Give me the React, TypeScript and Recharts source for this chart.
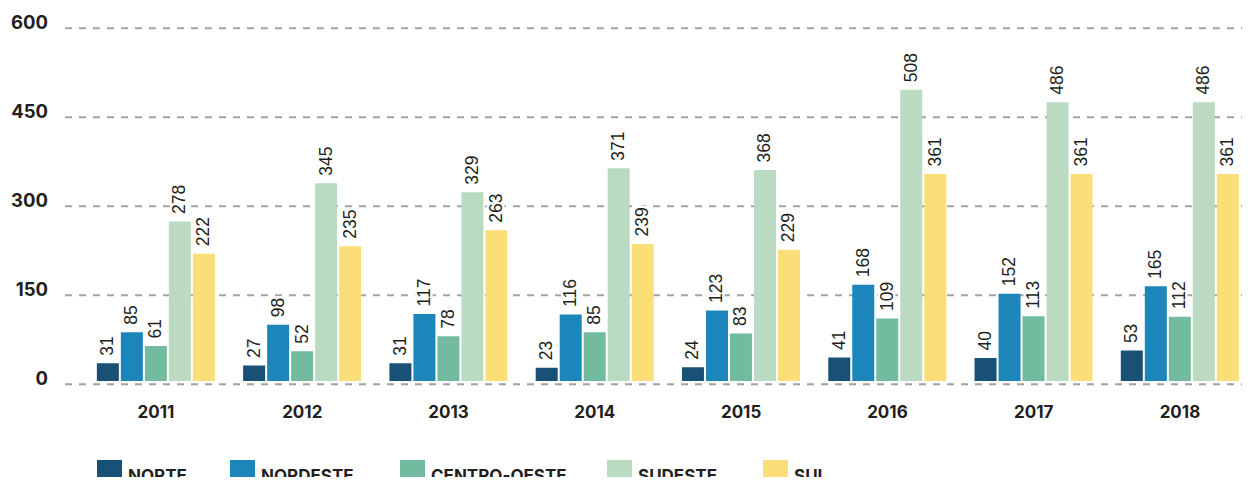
import React from 'react';
import { ComposedChart, Bar, Line, XAxis, YAxis, CartesianGrid, LabelList, Legend } from 'recharts';

const years = ['2011', '2012', '2013', '2014', '2015', '2016', '2017', '2018'];
const norte = [31, 27, 31, 23, 24, 41, 40, 53];
const nordeste = [85, 98, 117, 116, 123, 168, 152, 165];
const centroOeste = [61, 52, 78, 85, 83, 109, 113, 112];
const sudeste = [278, 345, 329, 371, 368, 508, 486, 486];
const sul = [222, 235, 263, 239, 229, 361, 361, 361];
const yTicks = [0, 150, 300, 450, 600];
const seriesNames = ['NORTE', 'NORDESTE', 'CENTRO-OESTE', 'SUDESTE', 'SUL'];

const seriesColors = ['#185175', '#1c86bb', '#72bb9f', '#badac1', '#fcde79'];
const legendLeft = [89, 222, 392, 599, 755];

const data = years.map((year, i) => ({
  year,
  NORTE: norte[i],
  NORDESTE: nordeste[i],
  'CENTRO-OESTE': centroOeste[i],
  SUDESTE: sudeste[i],
  SUL: sul[i],
}));

const TEXT = '#231f20';
const INTER = 'Inter, "Noto Sans", sans-serif';

const BarValueLabel = (props: any) => {
  const { x, y, width, value } = props;
  const px = Number(x) + Number(width) / 2 + 5.5;
  const py = Number(y) - 7.5;
  return (
    <text
      x={px}
      y={py}
      transform={`rotate(-90 ${px} ${py})`}
      textAnchor="start"
      fontFamily='"Liberation Sans", Arial, sans-serif'
      fontSize={17.5}
      fill={TEXT}
      stroke="#ffffff"
      strokeWidth={5}
      strokeLinejoin="round"
      paintOrder="stroke"
    >
      {value}
    </text>
  );
};

const YTick = (props: any) => {
  const { x, y, payload } = props;
  const fs = 18.5;
  return (
    <text x={x} y={y - 6.5 + 0.3635 * fs} textAnchor="end" fontFamily={INTER} fontWeight={700} fontSize={fs} fill={TEXT}>
      {payload.value}
    </text>
  );
};

const XTick = (props: any) => {
  const { x, y, payload } = props;
  return (
    <text x={x} y={y + 33.7} textAnchor="middle" fontFamily={INTER} fontWeight={700} fontSize={17} fill={TEXT}>
      {payload.value}
    </text>
  );
};

const renderLegend = () => (
  <div style={{ position: 'relative', width: 1000, height: 25 }}>
    {seriesNames.map((name, i) => (
      <React.Fragment key={name}>
        <div
          style={{
            position: 'absolute',
            left: legendLeft[i],
            top: 0,
            width: 25,
            height: 25,
            background: seriesColors[i],
          }}
        />
        <div
          style={{
            position: 'absolute',
            left: legendLeft[i] + 31,
            top: 7.5,
            fontFamily: INTER,
            fontWeight: 700,
            fontSize: 17,
            lineHeight: '17px',
            color: TEXT,
            whiteSpace: 'nowrap',
          }}
        >
          {name}
        </div>
      </React.Fragment>
    ))}
  </div>
);

export default function App() {
  return (
    <ComposedChart
      width={1242}
      height={469}
      data={data}
      margin={{ top: 20.3, right: -3.1, bottom: 52.7, left: 0 }}
      barSize={22}
      barGap={2}
    >
      <CartesianGrid
        yAxisId="grid"
        vertical={false}
        strokeDasharray="7 7"
        stroke="#a3a3a3"
        strokeWidth={2}
      />
      <XAxis
        dataKey="year"
        axisLine={false}
        tickLine={false}
        tickSize={0}
        tickMargin={0}
        height={40}
        padding={{ left: 17.86, right: 0 }}
        tick={<XTick />}
        interval={0}
      />
      <YAxis
        yAxisId="grid"
        orientation="left"
        type="number"
        domain={[0, 600]}
        ticks={yTicks}
        allowDataOverflow
        width={57}
        axisLine={false}
        tickLine={false}
        tickSize={0}
        tickMargin={17}
        tick={<YTick />}
        interval={0}
      />
      <YAxis
        yAxisId="bars"
        orientation="right"
        type="number"
        hide
        width={0}
        domain={[-5.75, 615]}
        allowDataOverflow
      />
      <Legend
        layout="horizontal"
        verticalAlign="middle"
        align="center"
        wrapperStyle={{ top: 452, left: 0, width: 1000, height: 25 }}
        content={renderLegend}
      />
      {seriesNames.map((name, i) => (
        <Bar
          key={name}
          dataKey={name}
          yAxisId="bars"
          fill={seriesColors[i]}
          isAnimationActive={false}
        >
          <LabelList dataKey={name} content={<BarValueLabel />} />
        </Bar>
      ))}
      <Line
        yAxisId="grid"
        dataKey="SUL"
        stroke="none"
        dot={false}
        activeDot={false}
        legendType="none"
        isAnimationActive={false}
      />
    </ComposedChart>
  );
}
